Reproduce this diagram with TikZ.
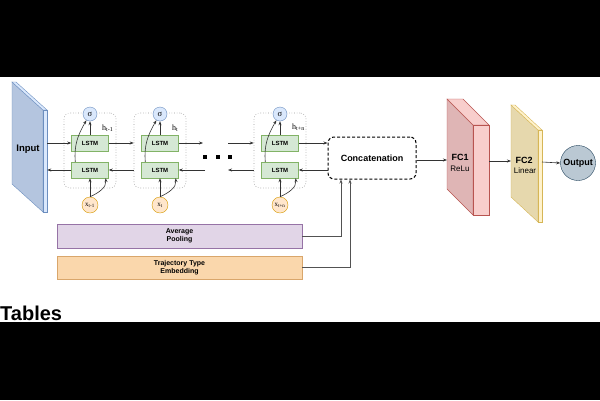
\documentclass[tikz,border=0pt]{standalone}
\usepackage{fontspec}
\setmainfont{Liberation Sans}
\newfontfamily\hfont{Liberation Serif}
\usetikzlibrary{arrows.meta}
\definecolor{lstmf}{HTML}{D5E8D4}
\definecolor{lstmd}{HTML}{82B366}
\definecolor{sgf}{HTML}{DAE8FC}
\definecolor{sgd}{HTML}{6C8EBF}
\definecolor{xf}{HTML}{FFE6CC}
\definecolor{xd}{HTML}{D79B00}
\definecolor{inpk}{HTML}{B4C5DF}
\definecolor{fcak}{HTML}{DFB5B5}
\definecolor{fcaf}{HTML}{F8CECC}
\definecolor{fcad}{HTML}{B85450}
\definecolor{fcbk}{HTML}{E6D8AD}
\definecolor{fcbf}{HTML}{FFF2CC}
\definecolor{fcbd}{HTML}{D6B656}
\definecolor{outf}{HTML}{BAC8D3}
\definecolor{outd}{HTML}{23445D}
\definecolor{apf}{HTML}{E1D5E7}
\definecolor{apd}{HTML}{9673A6}
\definecolor{emf}{HTML}{FAD7AC}
\definecolor{emd}{HTML}{D9A66B}
\definecolor{ln}{HTML}{333333}
\begin{document}
\begin{tikzpicture}[x=1pt,y=-1pt]
    \tikzstyle{cell} = [draw=gray!80,dotted,line width=0.6pt,rounded corners=6pt,minimum width=52pt,minimum height=75pt] %cell frame
    \tikzstyle{lstm} = [draw=lstmd,fill=lstmf,minimum width=37pt,minimum height=16pt,inner sep=0pt,font=\fontsize{6}{7}\selectfont\bfseries] %lstm box
    \tikzstyle{sg} = [circle,draw=sgd,fill=sgf,minimum size=14pt,inner sep=0pt,font=\hfont\fontsize{8.5}{8}\selectfont] %sigma
    \tikzstyle{xin} = [circle,draw=xd,fill=xf,minimum size=16pt,inner sep=0pt,font=\hfont\fontsize{7}{7}\selectfont] %input x
    \tikzstyle{hl} = [anchor=west,inner sep=0pt,font=\hfont\fontsize{8}{8}\selectfont] %hidden label
    \tikzstyle{ar} = [-{Stealth[length=4pt,width=3pt]},draw=ln,line width=0.6pt] %arrow
    \tikzstyle{ar2} = [-{Stealth[length=4pt,width=3pt]},draw=ln!85,line width=0.9pt] %side arrow
    \tikzstyle{bar} = [minimum width=245pt,inner sep=0pt,align=center,font=\fontsize{7}{8}\selectfont\bfseries] %long box
    \tikzstyle{big} = [inner sep=0pt,align=center,font=\fontsize{9}{10}\selectfont\bfseries] %big text
    \useasboundingbox(0,0)rectangle(600,400);
    \fill[white](0,0)rectangle(600,400);
    % input slab
    \filldraw[draw=sgd,fill=inpk](12,82)--(43,110)--(43,212)--(12,184)--cycle;
    \filldraw[draw=sgd,fill=sgf](12,82)--(16,82)--(47,110)--(43,110)--cycle;
    \node[draw=sgd,fill=sgf,minimum width=4pt,minimum height=102pt,inner sep=0pt](inp)at(45,161){};
    \node[big,font=\fontsize{9.5}{10}\selectfont\bfseries](tin)at(28,149){Input};
    % cells
    \node[cell](c1)at(90,150.5){};
    \node[cell](c2)at(160,150.5){};
    \node[cell](c3)at(280,150.5){};
    \node[lstm](lt1)at(90,143){LSTM};
    \node[lstm](lb1)at(90,170){LSTM};
    \node[lstm](lt2)at(160,143){LSTM};
    \node[lstm](lb2)at(160,170){LSTM};
    \node[lstm](lt3)at(280,143){LSTM};
    \node[lstm](lb3)at(280,170){LSTM};
    \node[sg](s1)at(90,114){σ};
    \node[sg](s2)at(160,114){σ};
    \node[sg](s3)at(280,114){σ};
    \node[xin](x1)at(90,205){x\textsubscript{t-1}};
    \node[xin](x2)at(160,205){x\textsubscript{t}};
    \node[xin](x3)at(280,205){x\textsubscript{t+n}};
    \node[hl](h1)at(102,128){h\textsubscript{t-1}};
    \node[hl](h2)at(172,128){h\textsubscript{t}};
    \node[hl](h3)at(292,127){h\textsubscript{t+n}};
    % dots
    \fill[black](203,155)rectangle(207,159);
    \fill[black](216,155)rectangle(220,159);
    \fill[black](228,155)rectangle(232,159);
    \coordinate(dt1)at(203,143);
    \coordinate(dt2)at(228,143);
    \coordinate(db1)at(205,170);
    \coordinate(db2)at(228,170);
    % inside cells
    \draw[ar](lt1)--(s1);
    \draw[ar](lt2)--(s2);
    \draw[ar](lt3)--(s3);
    \draw[ar](x1)--(lb1);
    \draw[ar](x2)--(lb2);
    \draw[ar](x3)--(lb3);
    \draw[ar]([xshift=4pt]lb1.north west)to[out=95,in=240](s1);
    \draw[ar]([xshift=4pt]lb2.north west)to[out=95,in=240](s2);
    \draw[ar]([xshift=4pt]lb3.north west)to[out=95,in=240](s3);
    \draw[ar](x1.north)to[out=25,in=-85]([xshift=-3pt]lb1.south east);
    \draw[ar](x2.north)to[out=25,in=-85]([xshift=-3pt]lb2.south east);
    \draw[ar](x3.north)to[out=25,in=-85]([xshift=-3pt]lb3.south east);
    % rows
    \draw[ar](inp.east|-lt1.west)--(lt1.west);
    \draw[ar](lt1.east)--(c2.west|-lt1.east);
    \draw[ar](lt2.east)--(dt1);
    \draw[ar](dt2)--(c3.west|-lt3.west);
    \draw[ar](lb1.west)--(inp.east|-lb1.west);
    \draw[ar](c2.west|-lb1.east)--(lb1.east);
    \draw[ar](db1)--(lb2.east);
    \draw[ar](c3.west|-lb3.west)--(db2);
    % concatenation
    \node[draw=black,dashed,dash pattern=on 3pt off 2pt,line width=1pt,rounded corners=6pt,minimum width=88pt,minimum height=42pt,big](cc)at(372,158){Concatenation};
    \draw[ar](lt3.east)--(cc.west|-lt3.east);
    \draw[ar](cc.west|-lb3.east)--(lb3.east);
    % fc1
    \filldraw[draw=fcad,fill=fcak](447,99)--(473,125)--(473,215)--(447,189)--cycle;
    \filldraw[draw=fcad,fill=fcaf](447,99)--(463,99)--(489,125)--(473,125)--cycle;
    \node[draw=fcad,fill=fcaf,minimum width=16pt,minimum height=90pt,inner sep=0pt](fc1)at(481,170){};
    \node[big](t1)at(460,157){FC1};
    \node[inner sep=0pt,font=\fontsize{8}{8}\selectfont](t1b)at(460,169){ReLu};
    \coordinate(f1in)at(447,160);
    \coordinate(f1out)at(489,161);
    % fc2
    \filldraw[draw=fcbd,fill=fcbk](511,105)--(538,130)--(538,222)--(511,197)--cycle;
    \filldraw[draw=fcbd,fill=fcbf](511,105)--(515,105)--(542,130)--(538,130)--cycle;
    \node[draw=fcbd,fill=fcbf,minimum width=4pt,minimum height=92pt,inner sep=0pt](fc2)at(540,176){};
    \node[big](t2)at(524,160){FC2};
    \node[inner sep=0pt,font=\fontsize{8}{8}\selectfont](t2b)at(525,171){Linear};
    \coordinate(f2in)at(511,161);
    \coordinate(f2out)at(542,162);
    % output
    \node[circle,draw=outd,fill=outf,minimum size=35pt,inner sep=0pt,big](out)at(578,163){Output};
    \draw[ar](cc.east|-f1in)--(f1in);
    \draw[ar](f1out)--(f2in);
    \draw[ar](f2out)--(out.west);
    % side inputs
    \node[bar,draw=apd,fill=apf,minimum height=24pt](ap)at(179.5,236){Average\\Pooling};
    \node[bar,draw=emd,fill=emf,minimum height=23pt](em)at(179.5,267.5){Trajectory Type\\Embedding};
    \draw[ar2](ap.east)-|([xshift=-31pt]cc.south);
    \draw[ar2](em.east)-|([xshift=-22pt]cc.south);
    % page
    \node[anchor=base west,inner sep=0pt,font=\fontsize{20}{20}\selectfont\bfseries](tab)at(0,320){Tables};
    \fill[black](0,0)rectangle(600,77);
    \fill[black](0,322)rectangle(600,400);
\end{tikzpicture}
\end{document}
